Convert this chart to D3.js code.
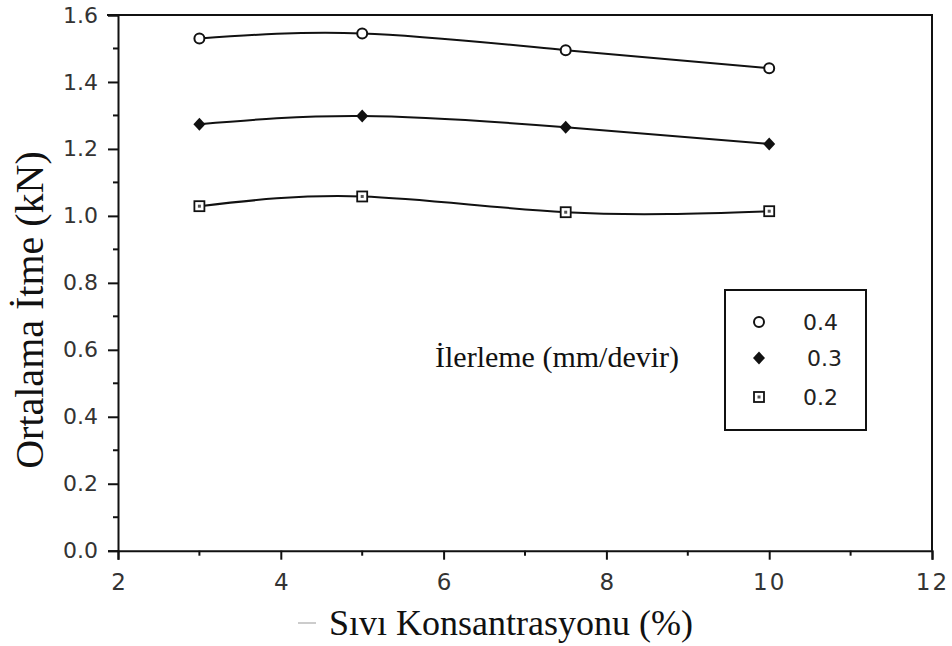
<!DOCTYPE html>
<html>
<head>
<meta charset="utf-8">
<script src="https://cdn.jsdelivr.net/npm/d3@7"></script>
<style>
  body { margin: 0; background: #fff; }
  .tick text { font-family: "DejaVu Sans", Verdana, sans-serif; fill: #333; }
</style>
</head>
<body>
<div id="chart"></div>
<script>
// data
const concentration = [3, 5, 7.5, 10];
const feed04 = [1.530, 1.545, 1.495, 1.441];
const feed03 = [1.274, 1.298, 1.265, 1.215];
const feed02 = [1.029, 1.058, 1.011, 1.014];
const seriesNames = ["0.4", "0.3", "0.2"];
const xTicks = [2, 4, 6, 8, 10, 12];
const yTicks = [0, 0.2, 0.4, 0.6, 0.8, 1.0, 1.2, 1.4, 1.6];

const width = 952, height = 646;
const svg = d3.select("#chart").append("svg")
  .attr("width", width)
  .attr("height", height);

const x = d3.scaleLinear().domain([2, 12]).range([118, 932]);
const y = d3.scaleLinear().domain([0, 1.6]).range([550.7, 15]);

// frame: top and right edges
svg.append("path")
  .attr("d", `M${x(2) - 11},${y(1.6)}H${x(12)}V${y(0)}`)
  .attr("fill", "none").attr("stroke", "#111").attr("stroke-width", 2);

// y axis
const yAxis = svg.append("g")
  .attr("transform", `translate(${x(2)},0)`)
  .call(d3.axisLeft(y).tickValues(yTicks).tickFormat(d3.format(".1f")).tickSize(10).tickPadding(10));
yAxis.select(".domain").attr("stroke", "#111").attr("stroke-width", 2);
yAxis.selectAll(".tick line").attr("stroke", "#111").attr("stroke-width", 2);
yAxis.selectAll(".tick text").attr("font-size", 22);
// minor ticks
svg.append("g").selectAll("line")
  .data(d3.range(0.1, 1.6, 0.2))
  .join("line")
  .attr("x1", x(2) - 5).attr("x2", x(2) + 1)
  .attr("y1", d => y(d)).attr("y2", d => y(d))
  .attr("stroke", "#111").attr("stroke-width", 2);

// x axis
const xAxis = svg.append("g")
  .attr("transform", `translate(0,${y(0)})`)
  .call(d3.axisBottom(x).tickValues(xTicks).tickFormat(d3.format("d")).tickSize(9).tickPadding(14));
xAxis.select(".domain").attr("stroke", "#111").attr("stroke-width", 2);
xAxis.selectAll(".tick line").attr("stroke", "#111").attr("stroke-width", 2);
xAxis.selectAll(".tick text").attr("font-size", 23)
  .attr("letter-spacing", d => d >= 10 ? "2px" : null);
svg.append("g").selectAll("line")
  .data([3, 5, 7, 9, 11])
  .join("line")
  .attr("x1", d => x(d)).attr("x2", d => x(d))
  .attr("y1", y(0)).attr("y2", y(0) + 5)
  .attr("stroke", "#111").attr("stroke-width", 2);

// axis titles
svg.append("text")
  .attr("transform", `translate(43,310) rotate(-90)`)
  .attr("text-anchor", "middle")
  .attr("font-family", "Liberation Serif, Times New Roman, serif")
  .attr("font-size", 40).attr("fill", "#111")
  .text("Ortalama İtme (kN)");
svg.append("text")
  .attr("x", 511).attr("y", 635)
  .attr("text-anchor", "middle")
  .attr("font-family", "Liberation Serif, Times New Roman, serif")
  .attr("font-size", 36).attr("fill", "#111")
  .text("Sıvı Konsantrasyonu (%)");
svg.append("line")
  .attr("x1", 298).attr("x2", 316).attr("y1", 623).attr("y2", 623)
  .attr("stroke", "#bbb").attr("stroke-width", 1.5);

// lines
const allSeries = [feed04, feed03, feed02];
const line = d3.line()
  .x(d => x(d[0])).y(d => y(d[1]))
  .curve(d3.curveNatural);
allSeries.forEach(vals => {
  svg.append("path")
    .datum(concentration.map((c, i) => [c, vals[i]]))
    .attr("d", line)
    .attr("fill", "none").attr("stroke", "#111").attr("stroke-width", 2);
});

// markers
function marker(g, kind, cx, cy) {
  if (kind === 0) {
    g.append("circle").attr("cx", cx).attr("cy", cy).attr("r", 5)
      .attr("fill", "#fff").attr("stroke", "#111").attr("stroke-width", 2);
  } else if (kind === 1) {
    g.append("path").attr("d", "M0,-6.5L6,0L0,6.5L-6,0Z")
      .attr("transform", `translate(${cx},${cy})`).attr("fill", "#111");
  } else {
    g.append("rect").attr("x", cx - 5).attr("y", cy - 5).attr("width", 10).attr("height", 10)
      .attr("fill", "#fff").attr("stroke", "#111").attr("stroke-width", 1.8);
    g.append("rect").attr("x", cx - 1.5).attr("y", cy - 1.5).attr("width", 3).attr("height", 3)
      .attr("fill", "#555");
  }
}
const markG = svg.append("g");
allSeries.forEach((vals, k) => {
  concentration.forEach((c, i) => marker(markG, k, x(c), y(vals[i])));
});

// legend
svg.append("rect")
  .attr("x", 725).attr("y", 290).attr("width", 141).attr("height", 140)
  .attr("fill", "#fff").attr("stroke", "#111").attr("stroke-width", 2);
const legY = [322, 358, 397];
seriesNames.forEach((name, k) => {
  marker(svg, k, 759, legY[k]);
  svg.append("text")
    .attr("x", 803 + (k === 1 ? 4 : 0)).attr("y", legY[k] + 8)
    .attr("font-family", "DejaVu Sans, Verdana, sans-serif")
    .attr("font-size", 22).attr("fill", "#222")
    .text(name);
});
svg.append("text")
  .attr("x", 435).attr("y", 367)
  .attr("font-family", "Liberation Serif, Times New Roman, serif")
  .attr("font-size", 30).attr("fill", "#111")
  .text("İlerleme (mm/devir)");
</script>
</body>
</html>
